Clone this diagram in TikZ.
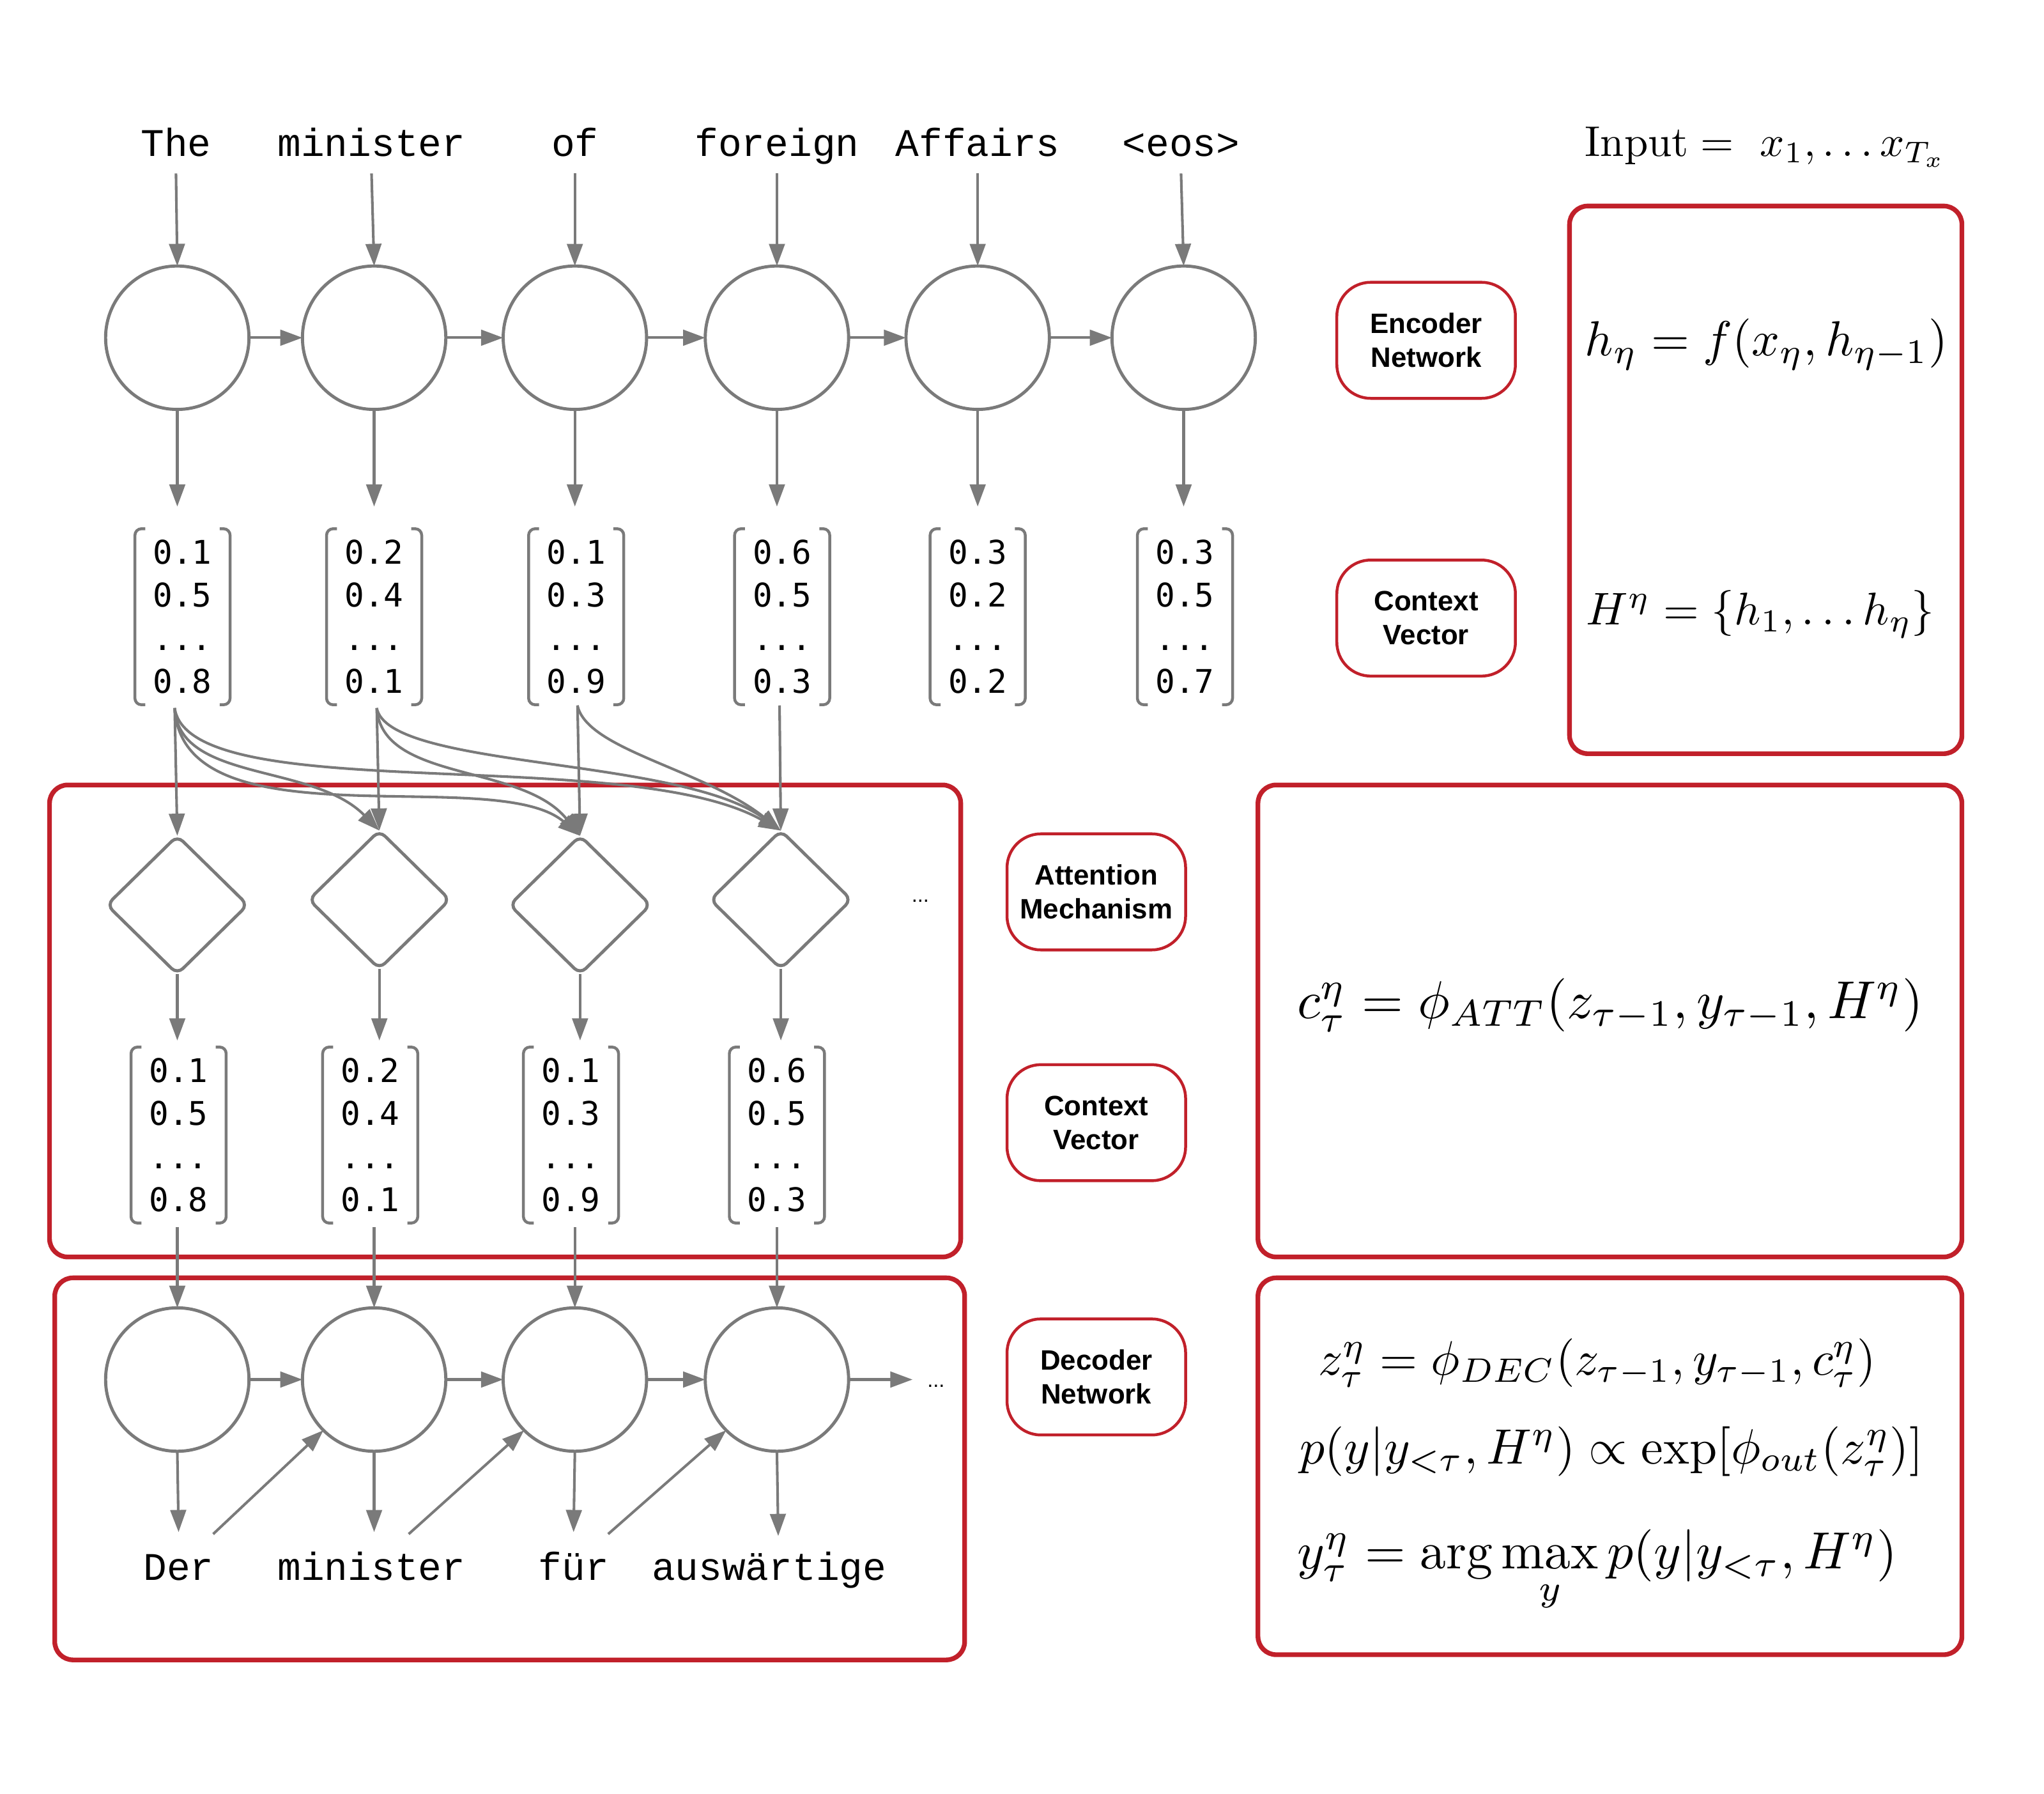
\documentclass[tikz,border=0pt]{standalone}
\usepackage{amsmath}
\usepackage{graphicx}
\usepackage{fontspec}
\usetikzlibrary{arrows.meta,shapes.geometric,calc}
\newfontfamily\wordfont{Liberation Mono}
\newfontfamily\numfont{DejaVu Sans Mono}
\newfontfamily\lblfont{Liberation Sans}
\definecolor{lgray}{RGB}{122,122,122}
\definecolor{fred}{RGB}{193,32,42}
\newcommand{\vecbox}[6]{%
  \node[vecnode] (#1) at (#2,#3) {#4\\#5\\...\\#6};
  \draw[brk] ([xshift=8pt]#1.north west) -- (#1.north west) -- (#1.south west) -- ([xshift=8pt]#1.south west);
  \draw[brk] ([xshift=-8pt]#1.north east) -- (#1.north east) -- (#1.south east) -- ([xshift=-8pt]#1.south east);
}
\begin{document}
\begin{tikzpicture}[x=1pt,y=-1pt,
  arr/.style={draw=lgray, line width=2pt, -{Triangle[length=17pt,width=12pt]}},
  circ/.style={circle, draw=lgray, line width=2.4pt, minimum size=110pt, inner sep=0pt, outer sep=0pt},
  dia/.style={diamond, draw=lgray, line width=2.4pt, minimum width=108pt, minimum height=106pt, inner sep=0pt, outer sep=0pt, rounded corners=6pt},
  vecnode/.style={inner sep=0pt, outer sep=0pt, minimum width=73pt, minimum height=135pt, align=center, font=\numfont\fontsize{25}{33}\selectfont},
  brk/.style={draw=lgray, line width=2.2pt, rounded corners=5pt},
  word/.style={anchor=base, inner sep=0pt, font=\wordfont\fontsize{30}{36}\selectfont},
  lbl/.style={draw=fred, line width=2.2pt, rounded corners=26pt, minimum width=137pt, minimum height=89pt, align=center, font=\lblfont\bfseries\fontsize{21.5}{26}\selectfont, inner sep=0pt},
  redframe/.style={draw=fred, line width=3.6pt, rounded corners=14pt, inner sep=0pt, outer sep=0pt},
  fml/.style={anchor=base west, inner sep=0pt},
  dots/.style={inner sep=0pt, font=\lblfont\fontsize{16}{18}\selectfont},
]
\fill[white] (0,0) rectangle (1568,1375.4);
\useasboundingbox (0,0) rectangle (1568,1375.4);

% frames
\node[redframe, minimum width=699pt, minimum height=362pt] (attframe) at (387.5,783) {};
\node[redframe, minimum width=698pt, minimum height=293pt] (decframe) at (391,1126.5) {};
\node[redframe, minimum width=301pt, minimum height=420pt] (encfbox) at (1354.5,368) {};
\node[redframe, minimum width=540pt, minimum height=362pt] (attfbox) at (1235,783) {};
\node[redframe, minimum width=540pt, minimum height=289pt] (decfbox) at (1235,1124.5) {};

% input words
\node[word] (w1) at (135,120) {The};
\node[word] (w2) at (285,120) {minister};
\node[word] (w3) at (441,120) {of};
\node[word] (w4) at (596,120) {foreign};
\node[word] (w5) at (750,120) {Affairs};
\node[word] (w6) at (906,120) {<eos>};

% encoder circles
\node[circ] (e1) at (136,259) {};
\node[circ] (e2) at (287,259) {};
\node[circ] (e3) at (441,259) {};
\node[circ] (e4) at (596,259) {};
\node[circ] (e5) at (750,259) {};
\node[circ] (e6) at (908,259) {};

\foreach \i in {1,...,6}{
  \draw[arr] ([yshift=-13pt]w\i.base) -- (e\i.north);
}
\draw[arr] (e1.east) -- (e2.west);
\draw[arr] (e2.east) -- (e3.west);
\draw[arr] (e3.east) -- (e4.west);
\draw[arr] (e4.east) -- (e5.west);
\draw[arr] (e5.east) -- (e6.west);

% encoder vectors
\vecbox{v1}{140}{473}{0.1}{0.5}{0.8}
\vecbox{v2}{287}{473}{0.2}{0.4}{0.1}
\vecbox{v3}{442}{473}{0.1}{0.3}{0.9}
\vecbox{v4}{600}{473}{0.6}{0.5}{0.3}
\vecbox{v5}{750}{473}{0.3}{0.2}{0.2}
\vecbox{v6}{909}{473}{0.3}{0.5}{0.7}

\foreach \i in {1,...,6}{
  \draw[arr] (e\i.south) -- ([yshift=17pt]v\i.north -| e\i.south);
}

% attention diamonds
\node[dia] (d1) at (136,694) {};
\node[dia] (d2) at (291,690) {};
\node[dia] (d3) at (445,694) {};
\node[dia] (d4) at (599,690) {};
\node[dots] (adots) at (706,691) {...};

\coordinate (s1) at (134,543);
\coordinate (s2) at (289,543);
\coordinate (s3) at (443,541);
\coordinate (s4) at (598,541);
\draw[arr] (s1) -- (d1.north);
\draw[arr] (s2) -- (d2.north);
\draw[arr] (s3) -- (d3.north);
\draw[arr] (s4) -- (d4.north);
\draw[arr] (s1) .. controls (137,600) and (240,585) .. (d2.north);
\draw[arr] (s1) .. controls (140,650) and (380,585) .. (d3.north);
\draw[arr] (s1) .. controls (145,620) and (480,570) .. (d4.north);
\draw[arr] (s2) .. controls (293,600) and (400,585) .. (d3.north);
\draw[arr] (s2) .. controls (298,590) and (520,580) .. (d4.north);
\draw[arr] (s3) .. controls (450,575) and (540,590) .. (d4.north);

% context vectors
\vecbox{u1}{137}{870.5}{0.1}{0.5}{0.8}
\vecbox{u2}{284}{870.5}{0.2}{0.4}{0.1}
\vecbox{u3}{438}{870.5}{0.1}{0.3}{0.9}
\vecbox{u4}{596}{870.5}{0.6}{0.5}{0.3}

\draw[arr] (d1.south) -- ([yshift=5pt]u1.north -| d1.south);
\draw[arr] (d2.south) -- ([yshift=5pt]u2.north -| d2.south);
\draw[arr] (d3.south) -- ([yshift=5pt]u3.north -| d3.south);
\draw[arr] (d4.south) -- ([yshift=5pt]u4.north -| d4.south);

% decoder circles
\node[circ] (c1) at (136,1058) {};
\node[circ] (c2) at (287,1058) {};
\node[circ] (c3) at (441,1058) {};
\node[circ] (c4) at (596,1058) {};
\coordinate (cend) at (700,1058);
\node[dots] (ddots) at (718,1063) {...};

\draw[arr] ([yshift=-3pt]u1.south -| c1.north) -- (c1.north);
\draw[arr] ([yshift=-3pt]u2.south -| c2.north) -- (c2.north);
\draw[arr] ([yshift=-3pt]u3.south -| c3.north) -- (c3.north);
\draw[arr] ([yshift=-3pt]u4.south -| c4.north) -- (c4.north);

\draw[arr] (c1.east) -- (c2.west);
\draw[arr] (c2.east) -- (c3.west);
\draw[arr] (c3.east) -- (c4.west);
\draw[arr] (c4.east) -- (cend);

% output words
\node[word] (o1) at (137,1212) {Der};
\node[word] (o2) at (285,1212) {minister};
\node[word] (o3) at (440,1212) {für};
\node[word] (o4) at (590,1212) {auswärtige};

\coordinate (t1) at (137,1175);
\coordinate (t2) at (287,1175);
\coordinate (t3) at (440,1175);
\coordinate (t4) at (597,1178);
\draw[arr] (c1.south) -- (t1);
\draw[arr] (c2.south) -- (t2);
\draw[arr] (c3.south) -- (t3);
\draw[arr] (c4.south) -- (t4);

\coordinate (f1) at (163.5,1176.5);
\coordinate (f2) at (313.5,1176.5);
\coordinate (f3) at (466.5,1176.5);
\draw[arr] (f1) -- (c2.225);
\draw[arr] (f2) -- (c3.225);
\draw[arr] (f3) -- (c4.225);

% labels
\node[lbl] (l1) at (1094,261) {Encoder\\Network};
\node[lbl] (l2) at (1094,474) {Context\\Vector};
\node[lbl] (l3) at (841,684) {Attention\\Mechanism};
\node[lbl] (l4) at (841,861) {Context\\Vector};
\node[lbl] (l5) at (841,1056) {Decoder\\Network};

% formulas
\node[fml] (finput) at (1215.7,120) {\resizebox{277pt}{!}{$\mathrm{Input} =\ x_1, \ldots x_{T_x}$}};
\node[fml] (fh) at (1215.7,273) {\resizebox{278pt}{!}{$h_\eta = f(x_\eta, h_{\eta-1})$}};
\node[fml] (fH) at (1216.8,479) {\resizebox{267pt}{!}{$H^\eta = \{h_1, \ldots h_\eta\}$}};
\node[fml] (fc) at (995,781) {\resizebox{480pt}{!}{$c_\tau^\eta = \phi_{ATT}(z_{\tau-1}, y_{\tau-1}, H^\eta)$}};
\node[fml] (fz) at (1011,1054.5) {\resizebox{428pt}{!}{$z_\tau^\eta = \phi_{DEC}(z_{\tau-1}, y_{\tau-1}, c_\tau^\eta)$}};
\node[fml] (fp) at (997,1122.5) {\resizebox{478pt}{!}{$p(y|y_{<\tau}, H^\eta) \propto \exp[\phi_{out}(z_\tau^\eta)]$}};
\node[fml] (fy) at (995,1203) {\resizebox{460pt}{!}{$y_\tau^\eta = \arg\max\limits_y p(y|y_{<\tau}, H^\eta)$}};
\end{tikzpicture}
\end{document}
